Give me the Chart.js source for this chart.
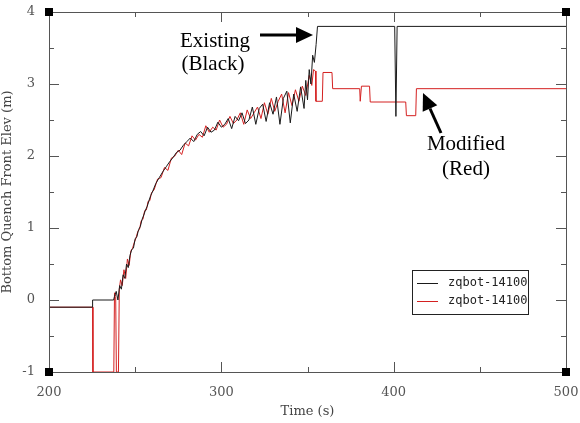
<!DOCTYPE html>
<html>
<head>
<meta charset="utf-8">
<script src="https://cdn.jsdelivr.net/npm/chart.js@4"></script>
<style>
  html, body { margin: 0; padding: 0; background: #fff; }
  #wrap { width: 580px; height: 423px; }
</style>
</head>
<body>
<div id="wrap"><canvas id="c"></canvas></div>
<script>
// tick labels
const xTicks = [200, 300, 400, 500];
const yTicks = [-1, 0, 1, 2, 3, 4];
const seriesLabels = ['zqbot-14100', 'zqbot-14100'];

// existing run (black)
const blackTime = [200, 225.2, 225.3, 237.5, 238, 239, 240, 241, 242, 243, 244, 245, 246, 247, 248, 249,
  250, 251, 252, 253, 254, 255, 256, 257, 258, 259, 260, 262, 264, 266, 268, 270, 272, 274, 276, 278,
  280, 282, 284, 286, 288, 290, 292, 294, 296, 298, 300, 302, 304, 306, 308, 310, 312, 314, 316, 318,
  320, 322, 324, 326, 328, 330, 332, 334, 336, 338, 340, 342, 344, 346, 348, 349, 350, 351, 352, 353,
  354, 355, 355.8, 400.6, 401.3, 402, 500];
const blackElev = [-0.1, -0.1, 0, 0, 0.05, 0.12, 0.0, 0.2, 0.15, 0.35, 0.3, 0.5, 0.45, 0.62, 0.7, 0.72,
  0.85, 0.88, 0.98, 1.02, 1.12, 1.18, 1.25, 1.3, 1.38, 1.45, 1.5, 1.62, 1.7, 1.78, 1.85, 1.92, 1.98, 2.05, 2.08, 2.15,
  2.2, 2.25, 2.2, 2.3, 2.34, 2.28, 2.4, 2.33, 2.36, 2.47, 2.4, 2.44, 2.52, 2.38, 2.55, 2.49, 2.6, 2.45, 2.5, 2.68,
  2.44, 2.66, 2.72, 2.48, 2.74, 2.58, 2.82, 2.44, 2.8, 2.9, 2.46, 2.86, 2.62, 2.96, 2.66, 3.05, 2.78, 3.2, 3.0, 3.4,
  3.3, 3.55, 3.8, 3.8, 2.55, 3.8, 3.8];

// modified run (red)
const redTime = [200, 225.3, 225.5, 237.6, 238, 238.7, 239.1, 240.3, 240.8, 241.5, 242.5, 243.5, 244.5, 245.5,
  246.5, 247.5, 248.5, 249.5, 250.5, 251.5, 252.5, 253.5, 254.5, 255.5, 256.5, 257.5, 258.5, 259.5, 261, 263,
  265, 267, 269, 271, 273, 275, 277, 279, 281, 283, 285, 287, 289, 291, 293, 295, 297, 299, 301, 303, 305, 307,
  309, 311, 313, 315, 317, 319, 321, 323, 325, 327, 329, 331, 333, 335, 337, 339, 341, 343, 345, 347, 349, 351,
  352.5, 353.5, 354.6, 354.9, 358.6, 359, 364.2, 364.6, 380.3, 380.6, 381, 381.3, 386, 386.4, 407, 407.4,
  412.8, 413.2, 500];
const redElev = [-0.1, -0.1, -1, -1, 0.1, 0.05, -1, -1, 0.15, 0.28, 0.2, 0.42, 0.3, 0.57,
  0.48, 0.68, 0.72, 0.8, 0.86, 0.95, 0.98, 1.1, 1.12, 1.24, 1.25, 1.37, 1.38, 1.49, 1.53, 1.68,
  1.7, 1.84, 1.8, 1.97, 2.0, 2.08, 2.02, 2.18, 2.14, 2.28, 2.22, 2.3, 2.26, 2.42, 2.33, 2.4, 2.36, 2.5, 2.4, 2.44, 2.55, 2.45,
  2.5, 2.6, 2.44, 2.64, 2.52, 2.6, 2.68, 2.52, 2.74, 2.58, 2.8, 2.62, 2.76, 2.86, 2.6, 2.88, 2.7, 2.92, 2.76, 2.97, 2.84, 3.12,
  2.98, 3.2, 3.18, 2.76, 2.76, 3.16, 3.16, 2.935, 2.935, 2.76, 2.76, 2.97, 2.97, 2.75, 2.75, 2.56,
  2.56, 2.935, 2.935];

const toPoints = (xs, ys) => xs.map((x, i) => ({ x: x, y: ys[i] }));

// frame, inward ticks, corner squares, legend and arrows
const decor = {
  id: 'decor',
  afterDraw(chart) {
    const ctx = chart.ctx;
    const a = chart.chartArea;
    const xs = chart.scales.x, ys = chart.scales.y;
    ctx.save();
    ctx.strokeStyle = '#555';
    ctx.lineWidth = 1;
    ctx.strokeRect(a.left + 0.5, a.top + 0.5, a.right - a.left, a.bottom - a.top);

    ctx.beginPath();
    for (let v = 200; v <= 500; v += 50) {
      const px = Math.round(xs.getPixelForValue(v)) + 0.5;
      const len = v % 100 === 0 ? 10 : 5;
      ctx.moveTo(px, a.bottom); ctx.lineTo(px, a.bottom - len);
      ctx.moveTo(px, a.top); ctx.lineTo(px, a.top + len);
    }
    for (let v = -1; v <= 4; v += 0.5) {
      const py = Math.round(ys.getPixelForValue(v)) + 0.5;
      const len = Number.isInteger(v) ? 10 : 5;
      ctx.moveTo(a.left, py); ctx.lineTo(a.left + len, py);
      ctx.moveTo(a.right, py); ctx.lineTo(a.right - len, py);
    }
    ctx.stroke();

    ctx.fillStyle = '#000';
    [[a.left, a.top], [a.right, a.top], [a.left, a.bottom], [a.right, a.bottom]].forEach(([cx, cy]) => {
      ctx.fillRect(cx - 4, cy - 4, 8, 8);
    });

    // legend box
    const lx = 412, ly = 270, lw = 116, lh = 44;
    ctx.fillStyle = '#fff';
    ctx.fillRect(lx, ly, lw, lh);
    ctx.strokeStyle = '#222';
    ctx.strokeRect(lx + 0.5, ly + 0.5, lw, lh);
    ctx.font = '12px "DejaVu Sans Mono"';
    ctx.textBaseline = 'middle';
    chart.data.datasets.forEach((ds, i) => {
      const yy = ly + 13 + i * 18;
      ctx.strokeStyle = ds.borderColor;
      ctx.beginPath();
      ctx.moveTo(lx + 5, yy + 0.5); ctx.lineTo(lx + 26, yy + 0.5);
      ctx.stroke();
      ctx.fillStyle = '#222';
      ctx.fillText(ds.label, lx + 36, yy);
    });

    // annotations
    ctx.fillStyle = '#000';
    ctx.font = '21px "Liberation Serif"';
    ctx.textAlign = 'center';
    ctx.textBaseline = 'alphabetic';
    ctx.fillText('Existing', 215, 47);
    ctx.fillText('(Black)', 213, 70);
    ctx.fillText('Modified', 466, 150);
    ctx.fillText('(Red)', 466, 175);

    const arrow = (x1, y1, x2, y2) => {
      const ang = Math.atan2(y2 - y1, x2 - x1);
      const hl = 17, hw = 8;
      const bx = x2 - hl * Math.cos(ang), by = y2 - hl * Math.sin(ang);
      ctx.strokeStyle = '#000';
      ctx.lineWidth = 3;
      ctx.beginPath();
      ctx.moveTo(x1, y1); ctx.lineTo(bx, by);
      ctx.stroke();
      ctx.beginPath();
      ctx.moveTo(x2, y2);
      ctx.lineTo(bx + hw * Math.sin(ang), by - hw * Math.cos(ang));
      ctx.lineTo(bx - hw * Math.sin(ang), by + hw * Math.cos(ang));
      ctx.closePath();
      ctx.fill();
    };
    arrow(260, 35, 313, 35);
    arrow(441, 133, 423, 93);
    ctx.restore();
  }
};

const tickFont = { family: 'DejaVu Serif', size: 13 };

new Chart(document.getElementById('c'), {
  type: 'line',
  data: {
    datasets: [
      {
        label: seriesLabels[0],
        data: toPoints(blackTime, blackElev),
        borderColor: '#1a1a1a',
        borderWidth: 1,
        pointRadius: 0,
        tension: 0
      },
      {
        label: seriesLabels[1],
        data: toPoints(redTime, redElev),
        borderColor: '#d42020',
        borderWidth: 1,
        pointRadius: 0,
        tension: 0
      }
    ]
  },
  options: {
    responsive: true,
    maintainAspectRatio: false,
    animation: false,
    layout: { padding: { top: 12, right: 14, left: 0, bottom: 0 } },
    plugins: {
      legend: { display: false },
      tooltip: { enabled: false }
    },
    scales: {
      x: {
        type: 'linear',
        min: 200,
        max: 500,
        afterBuildTicks: (s) => { s.ticks = xTicks.map(v => ({ value: v })); },
        afterFit: (s) => { s.height = 51; s.paddingLeft = 0; s.paddingRight = 0; },
        grid: { display: false },
        border: { display: false },
        ticks: { color: '#555', font: tickFont, padding: 5, maxRotation: 0 },
        title: { display: true, text: 'Time (s)', color: '#444', font: tickFont, padding: { top: 3 } }
      },
      y: {
        min: -1,
        max: 4,
        afterBuildTicks: (s) => { s.ticks = yTicks.map(v => ({ value: v })); },
        afterFit: (s) => { s.width = 49; s.paddingTop = 0; s.paddingBottom = 0; },
        grid: { display: false },
        border: { display: false },
        ticks: { color: '#555', font: tickFont, padding: 6 },
        title: { display: true, text: 'Bottom Quench Front Elev (m)', color: '#444', font: tickFont, padding: 0 }
      }
    }
  },
  plugins: [decor]
});
</script>
</body>
</html>
